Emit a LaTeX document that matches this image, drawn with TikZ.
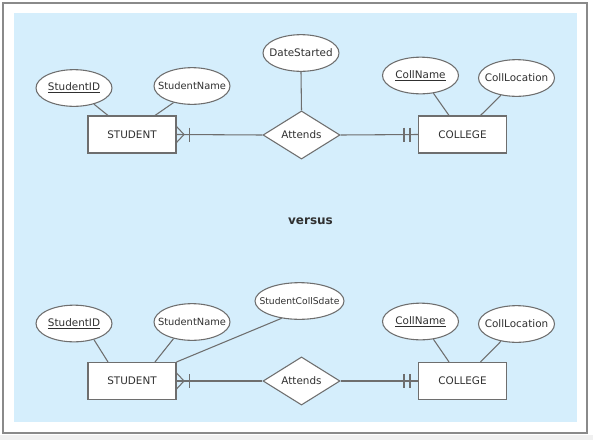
\documentclass[tikz,border=0pt]{standalone}
\usepackage{fontspec}
\setmainfont{DejaVu Sans}
\usetikzlibrary{shapes.geometric,calc}
\definecolor{bgblue}{HTML}{D5EEFC}
\definecolor{linegray}{HTML}{6E6E6E}
\definecolor{framegray}{HTML}{8A8A8A}
\definecolor{outergray}{HTML}{F0F0F0}
\definecolor{txt}{HTML}{303030}
\newcommand{\zb}[1]{\makebox[0pt][c]{#1}}
\tikzset{
  attr/.style={ellipse, draw=linegray, fill=white, line width=0.8pt, inner sep=0pt,
    minimum width=57pt, minimum height=27.5pt, text=txt},
  entity/.style={rectangle, draw=linegray, fill=white, line width=0.8pt, inner sep=0pt,
    minimum width=66pt, minimum height=27.75pt, text=txt},
  rel/.style={diamond, draw=linegray, fill=white, line width=0.8pt, inner sep=0pt,
    minimum width=57.75pt, minimum height=28.5pt, text=txt},
  conn/.style={draw=linegray, line width=0.8pt},
}
\begin{document}
\begin{tikzpicture}[x=0.75pt,y=-0.75pt,font=\fontsize{7.8}{9}\selectfont]
\useasboundingbox (0,0) rectangle (593,440);
\fill[white] (0,0) rectangle (593,440);
\fill[outergray] (0,435) rectangle (593,440);
\draw[framegray, line width=1.1pt] (3,3) rectangle (587,433);
\fill[bgblue] (14,13) rectangle (577,422);

% ---------- top diagram ----------
\node[entity] (st1) at (132,134.5) {STUDENT};
\node[entity] (cl1) at (462.5,134.5) {COLLEGE};
\node[rel] (at1) at (301.5,135) {Attends};
\node[attr] (sid1) at (74,88) {\zb{\underline{StudentID}}};
\node[attr] (sn1) at (192,86) {\zb{\fontsize{7.4}{9}\selectfont StudentName}};
\node[attr] (ds1) at (301,53) {\zb{DateStarted}};
\node[attr] (cn1) at (420.5,75.5) {\zb{\underline{CollName}}};
\node[attr] (clo1) at (516.5,78) {\zb{CollLocation}};

\draw[conn] (sid1.321) -- ([xshift=-18pt]st1.north);
\draw[conn] (sn1.222) -- ([xshift=17.25pt]st1.north);
\draw[conn] (ds1.south) -- (at1.north);
\draw[conn] (cn1.306) -- ([xshift=-10.1pt]cl1.north);
\draw[conn] (clo1.228.7) -- ([xshift=13.5pt]cl1.north);
\draw[conn] (st1.east) -- (at1.west);
\draw[conn] (at1.east) -- (cl1.west);
\draw[conn] ($(st1.east)+(0,-8)$) -- ($(st1.east)+(7.5,0)$) -- ($(st1.east)+(0,8)$);
\draw[conn] ($(st1.east)+(12.5,-7)$) -- ($(st1.east)+(12.5,7)$);
\draw[conn] ($(cl1.west)+(-14,-7)$) -- ($(cl1.west)+(-14,7)$);
\draw[conn] ($(cl1.west)+(-8,-7)$) -- ($(cl1.west)+(-8,7)$);

% ---------- versus ----------
\node[font=\bfseries\fontsize{9}{11}\selectfont, text=txt] (vs) at (310.5,221) {versus};

% ---------- bottom diagram ----------
\node[entity] (st2) at (132,381) {STUDENT};
\node[entity] (cl2) at (462.5,381) {COLLEGE};
\node[rel] (at2) at (301.5,381) {Attends};
\node[attr] (sid2) at (74,323.5) {\zb{\underline{StudentID}}};
\node[attr] (sn2) at (192,322) {\zb{\fontsize{7.4}{9}\selectfont StudentName}};
\node[attr, minimum width=66.75pt] (scs2) at (299.5,301) {\zb{\fontsize{6.9}{9}\selectfont StudentCollSdate}};
\node[attr] (cn2) at (420.5,321.5) {\zb{\underline{CollName}}};
\node[attr] (clo2) at (516.5,324) {\zb{CollLocation}};

\draw[conn] (sid2.321) -- ([xshift=-18pt]st2.north);
\draw[conn] (sn2.222) -- ([xshift=17.25pt]st2.north);
\draw[conn] (scs2.224) -- (st2.north east);
\draw[conn] (cn2.306) -- ([xshift=-10.1pt]cl2.north);
\draw[conn] (clo2.228.7) -- ([xshift=13.5pt]cl2.north);
\draw[conn] (st2.east) -- (at2.west);
\draw[conn] (at2.east) -- (cl2.west);
\draw[conn] ($(st2.east)+(0,-8)$) -- ($(st2.east)+(7.5,0)$) -- ($(st2.east)+(0,8)$);
\draw[conn] ($(st2.east)+(12.5,-7)$) -- ($(st2.east)+(12.5,7)$);
\draw[conn] ($(cl2.west)+(-14,-7)$) -- ($(cl2.west)+(-14,7)$);
\draw[conn] ($(cl2.west)+(-8,-7)$) -- ($(cl2.west)+(-8,7)$);
\end{tikzpicture}
\end{document}
